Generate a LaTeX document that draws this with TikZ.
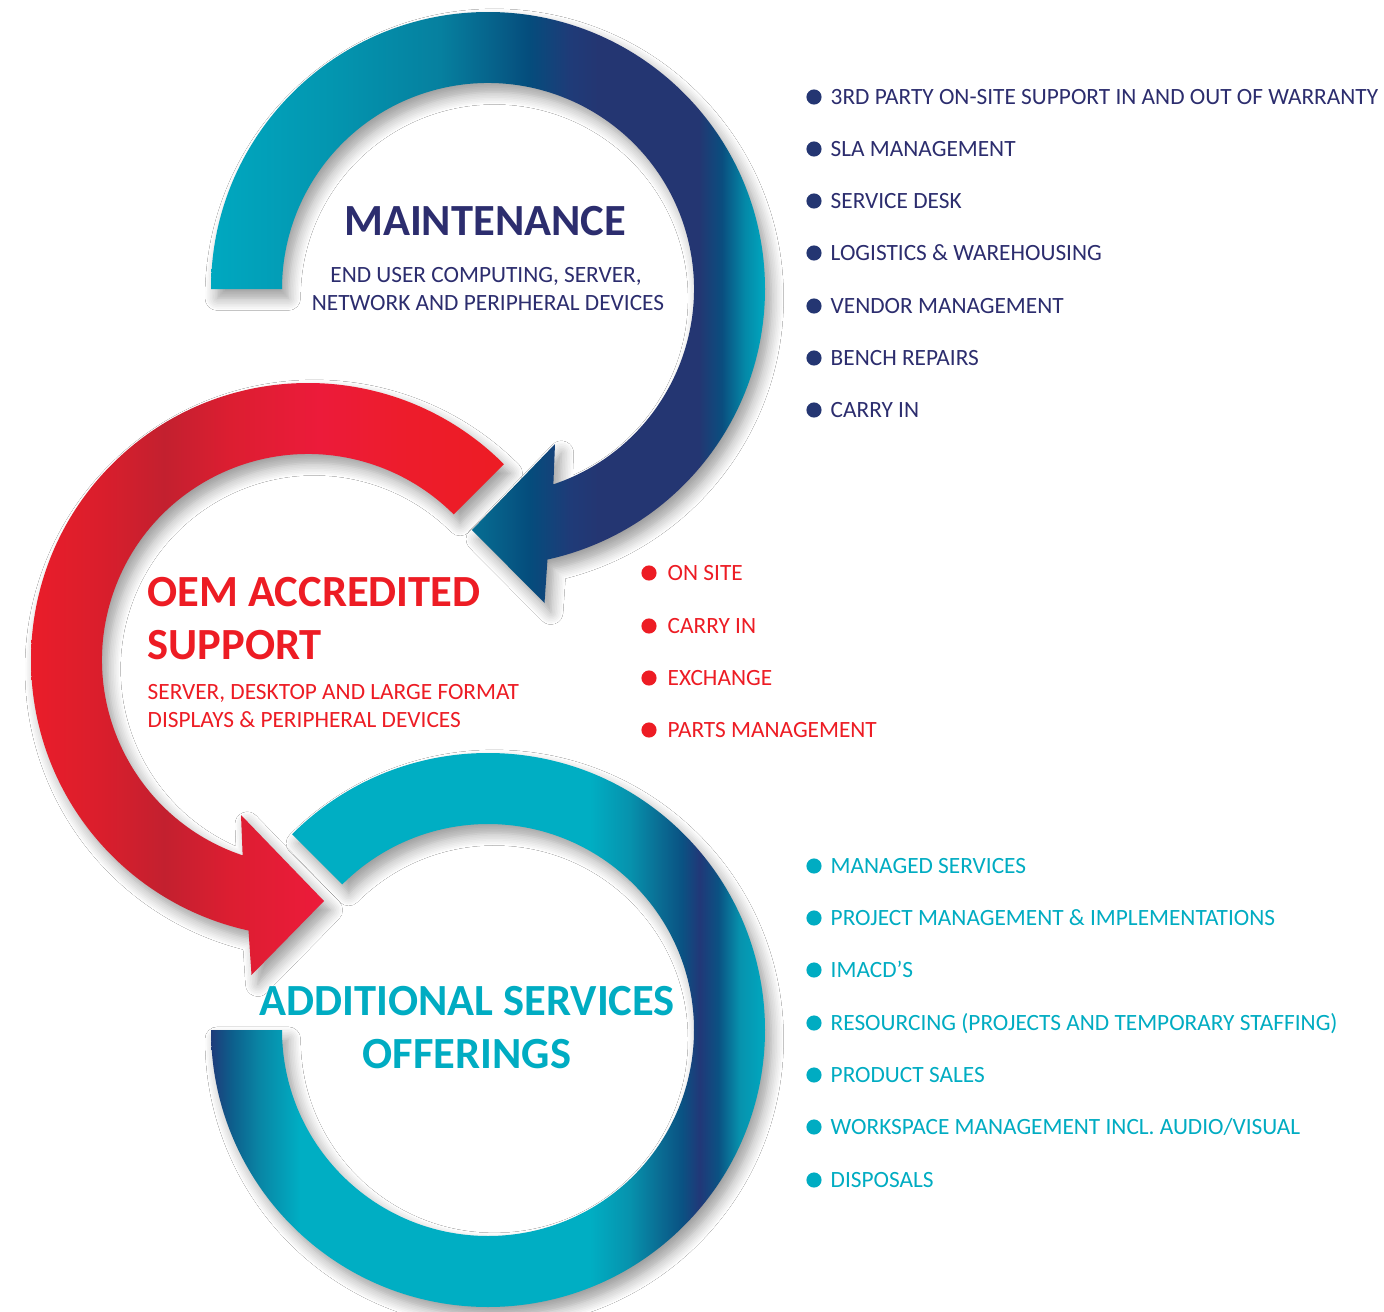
\documentclass[tikz,border=0pt]{standalone}
\usepackage{fontspec}
\setmainfont{Carlito}
\usepackage{xcolor}
\usepackage{tikz}
\usetikzlibrary{shadows.blur}

\definecolor{navytxt}{RGB}{44,45,110}
\definecolor{navydot}{RGB}{36,54,114}
\definecolor{redtxt}{RGB}{237,28,36}
\definecolor{tealtxt}{RGB}{0,172,194}

% top ring
\definecolor{tA}{RGB}{0,168,192}
\definecolor{tB}{RGB}{3,150,176}
\definecolor{tC}{RGB}{6,128,159}
\definecolor{tD}{RGB}{6,94,136}
\definecolor{tE}{RGB}{5,76,124}
\definecolor{tF}{RGB}{31,59,120}
\definecolor{tG}{RGB}{36,54,114}
\definecolor{tH}{RGB}{10,78,127}
\definecolor{tI}{RGB}{4,137,168}
% bottom ring
\definecolor{bA}{RGB}{30,60,122}
\definecolor{bB}{RGB}{13,95,140}
\definecolor{bC}{RGB}{9,134,165}
\definecolor{bD}{RGB}{0,174,195}
\definecolor{bE}{RGB}{7,146,173}
\definecolor{bF}{RGB}{10,108,147}
\definecolor{bG}{RGB}{10,82,131}
\definecolor{bH}{RGB}{33,56,120}
% red ring
\definecolor{rA}{RGB}{234,29,42}
\definecolor{rB}{RGB}{218,30,44}
\definecolor{rC}{RGB}{195,32,47}
\definecolor{rD}{RGB}{220,30,49}
\definecolor{rE}{RGB}{236,27,58}
\definecolor{rF}{RGB}{237,28,44}
\definecolor{rG}{RGB}{237,28,36}

\pgfdeclarehorizontalshading{topshade}{100bp}{color(0bp)=(tA); color(25bp)=(tA); color(35.7bp)=(tB); color(45.7bp)=(tC); color(51.1bp)=(tD); color(53.8bp)=(tE); color(57.4bp)=(tF); color(60bp)=(tG); color(69bp)=(tG); color(71.1bp)=(tH); color(73.2bp)=(tI); color(75bp)=(tA); color(100bp)=(tA)}
\pgfdeclarehorizontalshading{botshade}{100bp}{color(0bp)=(bA); color(25bp)=(bA); color(26.9bp)=(bB); color(29.4bp)=(bC); color(33bp)=(bD); color(59.2bp)=(bD); color(62.8bp)=(bE); color(65.5bp)=(bF); color(67.5bp)=(bG); color(69.1bp)=(bH); color(70.8bp)=(bG); color(72.7bp)=(bE); color(75bp)=(tA); color(100bp)=(tA)}
\pgfdeclarehorizontalshading{redshade}{100bp}{color(0bp)=(rA); color(25bp)=(rA); color(32.3bp)=(rB); color(39.1bp)=(rC); color(46bp)=(rD); color(55.5bp)=(rE); color(63.9bp)=(rF); color(75bp)=(rG); color(100bp)=(rG)}

% ring outlines
\newcommand{\toppath}{(211,-289) arc[start angle=180, end angle=-77.6, radius=277] -- (544.5,-603) -- (472,-530) -- (555,-444) -- (553.36,-484.35) arc[start angle=-71.5, end angle=180, radius=206] -- cycle}
\newcommand{\redpath}{(503.87,-464.13) arc[start angle=45, end angle=257.6, radius=277] -- (251.5,-975) -- (324,-901) -- (241,-815) -- (242.64,-855.35) arc[start angle=251.5, end angle=45, radius=206] -- cycle}
\newcommand{\botpath}{(292.13,-834.13) arc[start angle=135, end angle=-180, radius=277] -- (282,-1030) arc[start angle=-180, end angle=135, radius=206] -- cycle}

\begin{document}
\begin{tikzpicture}[x=0.01cm, y=0.01cm,
	headline/.style={font=\bfseries\fontsize{12.66pt}{15pt}\selectfont, inner sep=0pt},
	subline/.style={font=\fontsize{6.63pt}{8pt}\selectfont, inner sep=0pt},
	itemtext/.style={font=\fontsize{6.63pt}{8pt}\selectfont, inner sep=0pt, anchor=base west},
	dotitem/.style={circle, inner sep=0pt, minimum size=4.3pt},
	ringshadow/.style={blur shadow={shadow xshift=1.8pt, shadow yshift=-2.6pt, shadow blur radius=3.5pt, shadow opacity=40, shadow blur steps=8}}]
			\useasboundingbox[fill=white] (0,0) rectangle (1384,-1312);

			% rings
			\path[ringshadow] \toppath;
			\begin{scope}
				\clip \toppath;
				\shade[shading=topshade] (211,-12) rectangle (765,-604);
			\end{scope}
			\path[ringshadow] \redpath;
			\begin{scope}
				\clip \redpath;
				\shade[shading=redshade] (31,-383) rectangle (504,-975);
			\end{scope}
			\path[ringshadow] \botpath;
			\begin{scope}
				\clip \botpath;
				\shade[shading=botshade] (211,-753) rectangle (765,-1307);
			\end{scope}

			% titles
			\node[headline, text=navytxt, anchor=base] (maint) at (485,-235) {MAINTENANCE};
			\node[subline, text=navytxt, anchor=base] (maintsuba) at (486,-282) {END USER COMPUTING, SERVER,};
			\node[subline, text=navytxt, anchor=base] (maintsubb) at (488,-310) {NETWORK AND PERIPHERAL DEVICES};
			\node[headline, text=redtxt, anchor=base west] (oema) at (147,-606) {OEM ACCREDITED};
			\node[headline, text=redtxt, anchor=base west] (oemb) at (147,-659) {SUPPORT};
			\node[subline, text=redtxt, anchor=base west] (oemsuba) at (147,-699) {SERVER, DESKTOP AND LARGE FORMAT};
			\node[subline, text=redtxt, anchor=base west] (oemsubb) at (147,-727) {DISPLAYS \& PERIPHERAL DEVICES};
			\node[headline, text=tealtxt, anchor=base] (adda) at (467,-1015) {ADDITIONAL SERVICES};
			\node[headline, text=tealtxt, anchor=base] (addb) at (467,-1068) {OFFERINGS};

			% maintenance list
			\node[dotitem, fill=navydot] (md1) at (814,-97) {};
			\node[itemtext, text=navytxt] (m1) at (830,-104.5) {3RD PARTY ON-SITE SUPPORT IN AND OUT OF WARRANTY};
			\node[dotitem, fill=navydot] (md2) at (814,-149) {};
			\node[itemtext, text=navytxt] (m2) at (830,-156.5) {SLA MANAGEMENT};
			\node[dotitem, fill=navydot] (md3) at (814,-201) {};
			\node[itemtext, text=navytxt] (m3) at (830,-208.5) {SERVICE DESK};
			\node[dotitem, fill=navydot] (md4) at (814,-253) {};
			\node[itemtext, text=navytxt] (m4) at (830,-260.5) {LOGISTICS \& WAREHOUSING};
			\node[dotitem, fill=navydot] (md5) at (814,-306) {};
			\node[itemtext, text=navytxt] (m5) at (830,-313.5) {VENDOR MANAGEMENT};
			\node[dotitem, fill=navydot] (md6) at (814,-358) {};
			\node[itemtext, text=navytxt] (m6) at (830,-365.5) {BENCH REPAIRS};
			\node[dotitem, fill=navydot] (md7) at (814,-410) {};
			\node[itemtext, text=navytxt] (m7) at (830,-417.5) {CARRY IN};

			% oem list
			\node[dotitem, fill=redtxt] (od1) at (649,-573) {};
			\node[itemtext, text=redtxt] (o1) at (667,-580.5) {ON SITE};
			\node[dotitem, fill=redtxt] (od2) at (649,-626) {};
			\node[itemtext, text=redtxt] (o2) at (667,-633.5) {CARRY IN};
			\node[dotitem, fill=redtxt] (od3) at (649,-678) {};
			\node[itemtext, text=redtxt] (o3) at (667,-685.5) {EXCHANGE};
			\node[dotitem, fill=redtxt] (od4) at (649,-730) {};
			\node[itemtext, text=redtxt] (o4) at (667,-737.5) {PARTS MANAGEMENT};

			% additional list
			\node[dotitem, fill=tealtxt] (ad1) at (814,-866) {};
			\node[itemtext, text=tealtxt] (a1) at (830,-873.5) {MANAGED SERVICES};
			\node[dotitem, fill=tealtxt] (ad2) at (814,-918) {};
			\node[itemtext, text=tealtxt] (a2) at (830,-925.5) {PROJECT MANAGEMENT \& IMPLEMENTATIONS};
			\node[dotitem, fill=tealtxt] (ad3) at (814,-970) {};
			\node[itemtext, text=tealtxt] (a3) at (830,-977.5) {IMACD’S};
			\node[dotitem, fill=tealtxt] (ad4) at (814,-1023) {};
			\node[itemtext, text=tealtxt] (a4) at (830,-1030.5) {RESOURCING (PROJECTS AND TEMPORARY STAFFING)};
			\node[dotitem, fill=tealtxt] (ad5) at (814,-1075) {};
			\node[itemtext, text=tealtxt] (a5) at (830,-1082.5) {PRODUCT SALES};
			\node[dotitem, fill=tealtxt] (ad6) at (814,-1127) {};
			\node[itemtext, text=tealtxt] (a6) at (830,-1134.5) {WORKSPACE MANAGEMENT INCL. AUDIO/VISUAL};
			\node[dotitem, fill=tealtxt] (ad7) at (814,-1180) {};
			\node[itemtext, text=tealtxt] (a7) at (830,-1187.5) {DISPOSALS};
		\end{tikzpicture}
\end{document}
